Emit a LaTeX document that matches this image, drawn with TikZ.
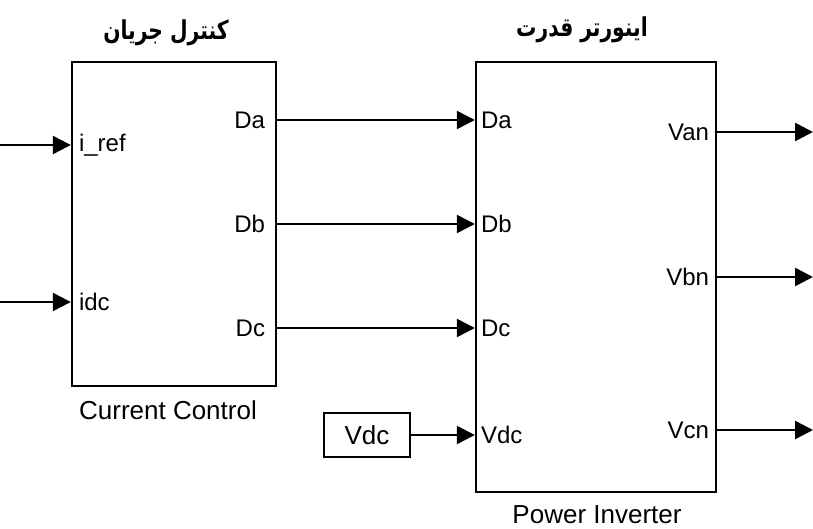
\documentclass[tikz,border=0pt]{standalone}
\usepackage{fontspec}
\setmainfont{Liberation Sans}
\newfontfamily\arabicfont[Script=Arabic]{DejaVu Sans}
\TeXXeTstate=1
\usetikzlibrary{arrows.meta,positioning}

\newcommand{\faTitle}[1]{\scalebox{0.78}[1]{\beginR #1\endR}}

\begin{document}
\begin{tikzpicture}[x=1pt,y=-1pt,
  block/.style={draw,line width=2.4pt,inner sep=0pt},
  sig/.style={line width=2.4pt,-{Triangle[length=18pt,width=18pt]}},
  port/.style={font=\fontsize{24}{24}\selectfont,inner sep=0pt},
  caption/.style={font=\fontsize{26}{26}\selectfont,inner sep=0pt},
  title/.style={font=\arabicfont\bfseries\fontsize{26}{26}\selectfont,inner sep=0pt}]
\useasboundingbox (0,0) rectangle (813,529);

% blocks
\node[block,minimum width=204pt,minimum height=324pt] (cc) at (174,224) {};
\node[block,minimum width=240pt,minimum height=430pt] (pi) at (596,277) {};
\node[block,minimum width=86pt,minimum height=44pt,font=\fontsize{26}{26}\selectfont] (vdc) at (367,435) {Vdc};

% titles and captions
\node[title] (cctitle) at (166,33) {\faTitle{کنترل جریان}};
\node[title] (pititle) at (582,30) {\faTitle{اینورتر قدرت}};
\node[caption] (cccap) at (168,410) {Current Control};
\node[caption] (picap) at (597,515) {Power Inverter};

% free ends
\coordinate (iref) at (0,145);
\coordinate (idc) at (0,302);
\coordinate (van) at (813,132);
\coordinate (vbn) at (813,277);
\coordinate (vcn) at (813,430);

% ports of current control
\node[port,anchor=west] (ccin1) at ([xshift=8pt]cc.west |- iref) {i\_ref};
\node[port,anchor=west] (ccin2) at ([xshift=8pt]cc.west |- idc) {idc};
\node[port,anchor=east] (ccda) at ([xshift=-12pt]cc.east |- 0,120) {Da};
\node[port,anchor=east] (ccdb) at ([xshift=-12pt]cc.east |- 0,224) {Db};
\node[port,anchor=east] (ccdc) at ([xshift=-12pt]cc.east |- 0,328) {Dc};

% ports of power inverter
\node[port,anchor=west] (pida) at ([xshift=6pt]pi.west |- ccda) {Da};
\node[port,anchor=west] (pidb) at ([xshift=6pt]pi.west |- ccdb) {Db};
\node[port,anchor=west] (pidc) at ([xshift=6pt]pi.west |- ccdc) {Dc};
\node[port,anchor=west] (pivdc) at ([xshift=6pt]pi.west |- vdc) {Vdc};
\node[port,anchor=east] (pivan) at ([xshift=-8pt]pi.east |- van) {Van};
\node[port,anchor=east] (pivbn) at ([xshift=-8pt]pi.east |- vbn) {Vbn};
\node[port,anchor=east] (pivcn) at ([xshift=-8pt]pi.east |- vcn) {Vcn};

% connections
\draw[sig] (iref) -- (iref -| cc.west);
\draw[sig] (idc) -- (idc -| cc.west);
\draw[sig] (cc.east |- ccda) -- (pi.west |- pida);
\draw[sig] (cc.east |- ccdb) -- (pi.west |- pidb);
\draw[sig] (cc.east |- ccdc) -- (pi.west |- pidc);
\draw[sig] (vdc.east) -- (pi.west |- pivdc);
\draw[sig] (pi.east |- van) -- (van);
\draw[sig] (pi.east |- vbn) -- (vbn);
\draw[sig] (pi.east |- vcn) -- (vcn);
\end{tikzpicture}
\end{document}
